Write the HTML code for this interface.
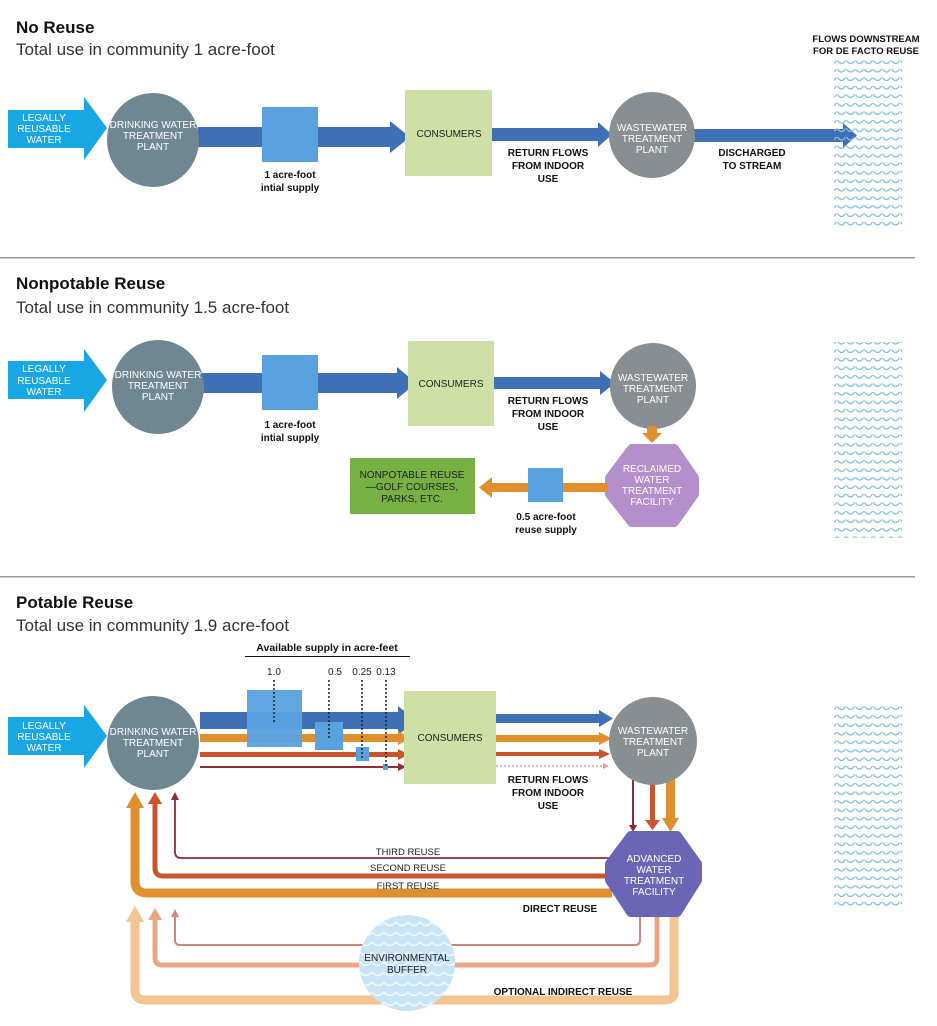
<!DOCTYPE html>
<html><head><meta charset="utf-8"><style>
body{margin:0;background:#fff}
svg{display:block}
text{font-family:"Liberation Sans",sans-serif}
.t{font-size:17px;font-weight:bold;fill:#111}
.s{font-size:17px;fill:#333}
.w{font-size:10px;fill:#fff;text-anchor:middle}
.b{font-size:10px;font-weight:bold;fill:#111;text-anchor:middle}
.n{font-size:10px;fill:#222;text-anchor:middle}
.c{font-size:10px;fill:#222;text-anchor:middle}
</style></head><body>
<svg width="937" height="1026" viewBox="0 0 937 1026" xmlns="http://www.w3.org/2000/svg">
<defs>
<pattern id="wv" width="9" height="8.5" patternUnits="userSpaceOnUse">
<path d="M0.5 1 Q4.5 7 8.5 1" fill="none" stroke="#86bfe4" stroke-width="1.2"/>
</pattern>
<pattern id="wv2" width="12" height="10" patternUnits="userSpaceOnUse">
<path d="M0 2 Q6 9 12 2" fill="none" stroke="#f2f9fd" stroke-width="1.5"/>
</pattern>
</defs>

<!-- ===== Section 1 ===== -->
<text x="16" y="33" class="t">No Reuse</text>
<text x="16" y="55" class="s">Total use in community 1 acre-foot</text>
<polygon points="8,110 84,110 84,97 107,128 84,160 84,148 8,148" fill="#19a6e4"/>
<text x="44" y="121" class="w">LEGALLY</text><text x="44" y="132" class="w">REUSABLE</text><text x="44" y="143" class="w">WATER</text>
<rect x="198" y="127" width="195" height="20" fill="#3f70b6"/>
<polygon points="390,121 410,137 390,153" fill="#3f70b6"/>
<ellipse cx="153" cy="140" rx="46" ry="47" fill="#6f8792"/>
<text x="153" y="128" class="w">DRINKING WATER</text><text x="153" y="139" class="w">TREATMENT</text><text x="153" y="150" class="w">PLANT</text>
<rect x="262" y="107" width="56" height="55" fill="#5aa1df"/>
<text x="290" y="178" class="b">1 acre-foot</text><text x="290" y="191" class="b">intial supply</text>
<rect x="405" y="90" width="87" height="86" fill="#cfe0a7"/>
<text x="449" y="137" class="c">CONSUMERS</text>
<rect x="492" y="128" width="108" height="13" fill="#3f70b6"/>
<polygon points="598,122 612,134.5 598,147" fill="#3f70b6"/>
<text x="548" y="156" class="b">RETURN FLOWS</text><text x="548" y="169" class="b">FROM INDOOR</text><text x="548" y="182" class="b">USE</text>
<rect x="690" y="129" width="155" height="13" fill="#3f70b6"/>
<polygon points="843,123 857,135.5 843,148" fill="#3f70b6"/>
<circle cx="652" cy="135" r="43" fill="#888e92"/>
<text x="652" y="131" class="w">WASTEWATER</text><text x="652" y="142" class="w">TREATMENT</text><text x="652" y="153" class="w">PLANT</text>
<text x="752" y="156" class="b">DISCHARGED</text><text x="752" y="169" class="b">TO STREAM</text>
<text x="866" y="42" class="b" style="font-size:9.5px">FLOWS DOWNSTREAM</text><text x="866" y="54" class="b" style="font-size:9.5px">FOR DE FACTO REUSE</text>
<rect x="834" y="60" width="68" height="168" fill="url(#wv)"/>
<rect x="0" y="257" width="915" height="1.5" fill="#999"/>

<!-- ===== Section 2 ===== -->
<text x="16" y="289" class="t">Nonpotable Reuse</text>
<text x="16" y="313" class="s">Total use in community 1.5 acre-foot</text>
<polygon points="8,361 84,361 84,349 107,380 84,412 84,399 8,399" fill="#19a6e4"/>
<text x="44" y="372" class="w">LEGALLY</text><text x="44" y="384" class="w">REUSABLE</text><text x="44" y="395" class="w">WATER</text>
<rect x="200" y="373" width="200" height="20" fill="#3f70b6"/>
<polygon points="397,367 416,383 397,399" fill="#3f70b6"/>
<ellipse cx="158" cy="387" rx="46" ry="47" fill="#6f8792"/>
<text x="158" y="378" class="w">DRINKING WATER</text><text x="158" y="389" class="w">TREATMENT</text><text x="158" y="400" class="w">PLANT</text>
<rect x="262" y="355" width="56" height="55" fill="#5aa1df"/>
<text x="290" y="428" class="b">1 acre-foot</text><text x="290" y="441" class="b">intial supply</text>
<rect x="408" y="341" width="86" height="85" fill="#cfe0a7"/>
<text x="451" y="387" class="c">CONSUMERS</text>
<rect x="494" y="377" width="107" height="12" fill="#3f70b6"/>
<polygon points="600,371 615,383 600,395" fill="#3f70b6"/>
<text x="548" y="404" class="b">RETURN FLOWS</text><text x="548" y="417" class="b">FROM INDOOR</text><text x="548" y="430" class="b">USE</text>
<circle cx="653" cy="386" r="43" fill="#888e92"/>
<text x="653" y="381" class="w">WASTEWATER</text><text x="653" y="392" class="w">TREATMENT</text><text x="653" y="403" class="w">PLANT</text>
<rect x="647" y="426" width="10" height="8" fill="#e08f2e"/>
<polygon points="642,433 662,433 652,443" fill="#e08f2e"/>
<polygon points="632,449 674,449 694,478 694,494 674,522 632,522 610,494 610,478" fill="#b48fcb" stroke="#b48fcb" stroke-width="10" stroke-linejoin="round"/>
<text x="652" y="472" class="w">RECLAIMED</text><text x="652" y="483" class="w">WATER</text><text x="652" y="494" class="w">TREATMENT</text><text x="652" y="505" class="w">FACILITY</text>
<rect x="490" y="483" width="118" height="9" fill="#e08f2e"/>
<polygon points="492,477 479,487.5 492,498" fill="#e08f2e"/>
<rect x="528" y="468" width="35" height="34" fill="#5aa1df"/>
<text x="546" y="520" class="b">0.5 acre-foot</text><text x="546" y="533" class="b">reuse supply</text>
<rect x="350" y="458" width="125" height="56" fill="#77b043"/>
<text x="412" y="478" class="c">NONPOTABLE REUSE</text><text x="412" y="490" class="c">—GOLF COURSES,</text><text x="412" y="502" class="c">PARKS, ETC.</text>
<rect x="834" y="342" width="68" height="196" fill="url(#wv)"/>
<rect x="0" y="576" width="915" height="1.5" fill="#999"/>

<!-- ===== Section 3 ===== -->
<text x="16" y="608" class="t">Potable Reuse</text>
<text x="16" y="631" class="s">Total use in community 1.9 acre-foot</text>
<text x="327" y="651" class="b" style="font-size:10.5px">Available supply in acre-feet</text>
<rect x="245" y="656" width="165" height="1" fill="#111"/>
<text x="274" y="675" class="n">1.0</text><text x="335" y="675" class="n">0.5</text><text x="362" y="675" class="n">0.25</text><text x="386" y="675" class="n">0.13</text>

<path d="M640 915 V940 Q640 945 635 945 H180 Q175 945 175 940 V915" fill="none" stroke="#c98a7d" stroke-width="2"/>
<polygon points="171,917 175,909 179,917" fill="#c98a7d"/>
<path d="M657 915 V958 Q657 965 650 965 H162 Q155 965 155 958 V918" fill="none" stroke="#eba684" stroke-width="5"/>
<polygon points="148,920 155,908 162,920" fill="#eba684"/>
<path d="M674 915 V993 Q674 1000 664 1000 H145 Q135 1000 135 990 V920" fill="none" stroke="#f3c592" stroke-width="9"/>
<polygon points="126,922 135,906 144,922" fill="#f3c592"/>
<circle cx="407" cy="963" r="48" fill="#c9e4f4"/>
<circle cx="407" cy="963" r="48" fill="url(#wv2)"/>
<text x="407" y="961" class="c">ENVIRONMENTAL</text><text x="407" y="973" class="c">BUFFER</text>
<text x="563" y="995" class="b">OPTIONAL INDIRECT REUSE</text>

<path d="M612 858 H181 Q175 858 175 852 V798" fill="none" stroke="#8c2d35" stroke-width="1.8"/>
<polygon points="171,800 175,792 179,800" fill="#8c2d35"/>
<path d="M612 876 H163 Q155 876 155 868 V802" fill="none" stroke="#c9552f" stroke-width="5"/>
<polygon points="148,804 155,792 162,804" fill="#c9552f"/>
<path d="M612 893 H147 Q135 893 135 881 V806" fill="none" stroke="#e08f2e" stroke-width="9"/>
<polygon points="126,808 135,792 144,808" fill="#e08f2e"/>
<text x="408" y="855" class="n" style="font-size:9.5px">THIRD REUSE</text>
<text x="408" y="871" class="n" style="font-size:9.5px">SECOND REUSE</text>
<text x="408" y="889" class="n" style="font-size:9.5px">FIRST REUSE</text>
<text x="560" y="912" class="b">DIRECT REUSE</text>

<polygon points="8,717 84,717 84,705 107,736 84,768 84,755 8,755" fill="#19a6e4"/>
<text x="44" y="729" class="w">LEGALLY</text><text x="44" y="740" class="w">REUSABLE</text><text x="44" y="751" class="w">WATER</text>
<rect x="200" y="712" width="200" height="17" fill="#3f70b6"/>
<polygon points="398,706 416,720.5 398,735" fill="#3f70b6"/>
<rect x="200" y="734" width="200" height="8" fill="#e08f2e"/>
<polygon points="398,731 410,738 398,745" fill="#e08f2e"/>
<rect x="200" y="752" width="200" height="5" fill="#c9552f"/>
<polygon points="398,749 409,754.5 398,760" fill="#c9552f"/>
<rect x="200" y="766" width="200" height="2" fill="#8c2d35"/>
<polygon points="398,763 406,767 398,771" fill="#8c2d35"/>
<ellipse cx="153" cy="743" rx="46" ry="47" fill="#6f8792"/>
<text x="153" y="735" class="w">DRINKING WATER</text><text x="153" y="746" class="w">TREATMENT</text><text x="153" y="757" class="w">PLANT</text>
<rect x="247" y="690" width="55" height="57" fill="#5aa1df" opacity="0.95"/>
<rect x="315" y="722" width="28" height="28" fill="#5aa1df"/>
<rect x="356" y="747" width="13" height="14" fill="#5aa1df"/>
<rect x="383" y="764" width="5" height="6" fill="#5aa1df"/>
<g stroke="#222" stroke-width="1.5" stroke-dasharray="2,2">
<line x1="274" y1="680" x2="274" y2="724"/><line x1="329" y1="680" x2="329" y2="740"/><line x1="362" y1="680" x2="362" y2="758"/><line x1="386" y1="680" x2="386" y2="766"/>
</g>
<rect x="404" y="691" width="92" height="93" fill="#cfe0a7"/>
<text x="450" y="741" class="c">CONSUMERS</text>
<rect x="496" y="714" width="104" height="9" fill="#3f70b6"/>
<polygon points="599,710 613,718.5 599,727" fill="#3f70b6"/>
<rect x="496" y="735" width="104" height="7" fill="#e08f2e"/>
<polygon points="599,732 612,738.5 599,745" fill="#e08f2e"/>
<rect x="496" y="752" width="104" height="4" fill="#c9552f"/>
<polygon points="599,749 610,754 599,759" fill="#c9552f"/>
<line x1="496" y1="766" x2="604" y2="766" stroke="#e3a0a0" stroke-width="1.5" stroke-dasharray="2,2"/>
<polygon points="603,763 609,766 603,769" fill="#e3a0a0"/>
<text x="548" y="783" class="b">RETURN FLOWS</text><text x="548" y="796" class="b">FROM INDOOR</text><text x="548" y="809" class="b">USE</text>
<rect x="632" y="780" width="2" height="46" fill="#8c2d35"/><polygon points="629,825 637,825 633,832" fill="#8c2d35"/>
<rect x="650" y="778" width="5" height="43" fill="#c9552f"/><polygon points="645,820 660,820 652.5,830" fill="#c9552f"/>
<rect x="666" y="776" width="9" height="44" fill="#e08f2e"/><polygon points="662,818 679,818 670.5,832" fill="#e08f2e"/>
<circle cx="653" cy="741" r="44" fill="#888e92"/>
<text x="653" y="734" class="w">WASTEWATER</text><text x="653" y="745" class="w">TREATMENT</text><text x="653" y="756" class="w">PLANT</text>
<polygon points="631,836 677,836 697,864 697,880 677,912 631,912 610,880 610,864" fill="#6b65b5" stroke="#6b65b5" stroke-width="10" stroke-linejoin="round"/>
<text x="654" y="862" class="w">ADVANCED</text><text x="654" y="873" class="w">WATER</text><text x="654" y="884" class="w">TREATMENT</text><text x="654" y="895" class="w">FACILITY</text>
<rect x="834" y="702" width="68" height="204" fill="url(#wv)"/>
</svg>
</body></html>
